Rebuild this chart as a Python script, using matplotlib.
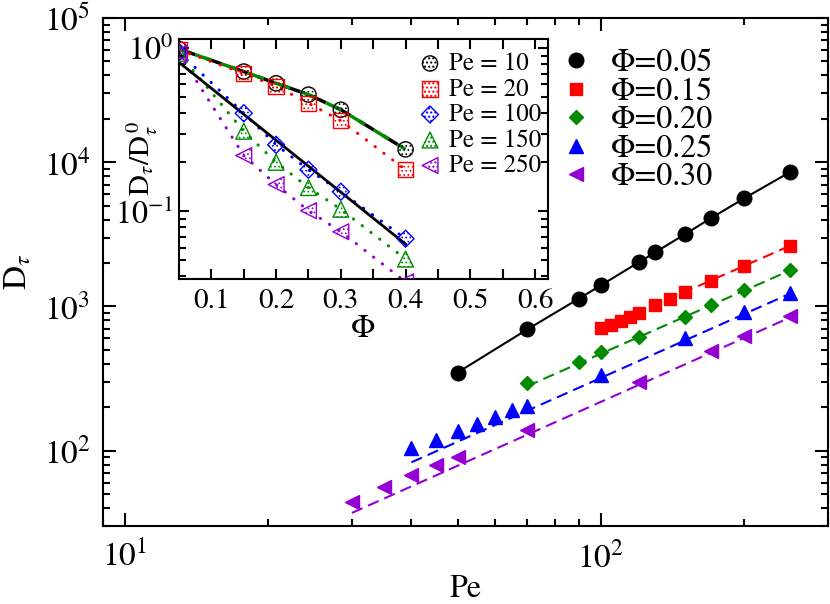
import numpy as np
import matplotlib
matplotlib.use("Agg")
import matplotlib.pyplot as plt
from matplotlib.ticker import MultipleLocator, NullFormatter, LogLocator

plt.rcParams["font.family"] = ["STIXGeneral", "Liberation Serif", "DejaVu Serif"]
plt.rcParams["mathtext.fontset"] = "stix"

# ---- main panel: D_tau against Pe, one set per packing fraction ----
pe_005 = [50, 70, 90, 100, 120, 130, 150, 170, 200, 250]
d_005 = [348, 692, 1135, 1400, 2020, 2370, 3160, 4080, 5620, 8570]

pe_015 = [100, 105, 110, 115, 120, 130, 140, 150, 170, 200, 250]
d_015 = [705, 745, 790, 840, 905, 1020, 1130, 1250, 1490, 1900, 2640]

pe_020 = [70, 90, 100, 120, 150, 170, 200, 250]
d_020 = [296, 415, 480, 615, 845, 1020, 1290, 1785]

pe_025 = [40, 45, 50, 55, 60, 65, 70, 100, 150, 200, 250]
d_025 = [105, 119, 136, 154, 172, 190, 205, 337, 600, 915, 1245]

pe_030 = [30, 35, 40, 45, 50, 70, 120, 170, 200, 250]
d_030 = [44, 56, 68, 80, 91, 140, 297, 487, 619, 860]

# power-law fit lines (end points)
fit_pe_015 = [100, 250]
fit_d_015 = [700, 2640]
fit_pe_020 = [70, 250]
fit_d_020 = [280, 1780]
fit_pe_025 = [40, 250]
fit_d_025 = [83, 1230]
fit_pe_030 = [30, 250]
fit_d_030 = [37, 840]

# ---- inset: D_tau/D_tau^0 against Phi ----
phi = [0.05, 0.15, 0.20, 0.25, 0.30, 0.40]
r_pe10 = [0.99, 0.72, 0.61, 0.52, 0.42, 0.24]
r_pe20 = [0.98, 0.70, 0.585, 0.46, 0.36, 0.18]
r_pe100 = [0.945, 0.40, 0.256, 0.18, 0.132, 0.068]
r_pe150 = [0.93, 0.31, 0.20, 0.14, 0.103, 0.051]
r_pe250 = [0.93, 0.22, 0.146, 0.101, 0.075, 0.037]
fit_phi = [0.05, 0.40]
fit_r = [0.82, 0.063]

green = "#008b00"
purple = "#9400d3"

fig = plt.figure(figsize=(8.3, 6.04), dpi=100)
ax = fig.add_axes([0.1241, 0.1291, 0.8735, 0.841])

dash = (5.5, 3)
ax.plot(pe_005, d_005, color="black", lw=1.5, zorder=2)
ax.plot(fit_pe_015, fit_d_015, color="red", lw=1.5, dashes=dash, zorder=2)
ax.plot(fit_pe_020, fit_d_020, color=green, lw=1.5, dashes=dash, zorder=2)
ax.plot(fit_pe_025, fit_d_025, color="blue", lw=1.5, dashes=dash, zorder=2)
ax.plot(fit_pe_030, fit_d_030, color=purple, lw=1.5, dashes=dash, zorder=2)

ax.plot(pe_005, d_005, ls="none", marker="o", ms=10.5, color="black", label="Φ=0.05")
ax.plot(pe_015, d_015, ls="none", marker="s", ms=9, color="red", label="Φ=0.15")
ax.plot(pe_020, d_020, ls="none", marker="D", ms=7.5, color=green, label="Φ=0.20")
ax.plot(pe_025, d_025, ls="none", marker="^", ms=10.5, color="blue", label="Φ=0.25")
ax.plot(pe_030, d_030, ls="none", marker="<", ms=10.5, color=purple, label="Φ=0.30")

ax.set_xscale("log")
ax.set_yscale("log")
ax.set_xlim(9, 300)
ax.set_ylim(30, 1e5)
ax.xaxis.set_minor_formatter(NullFormatter())
ax.yaxis.set_minor_formatter(NullFormatter())
ax.tick_params(which="both", direction="in", top=True, right=True, width=1.5)
ax.tick_params(which="major", length=9.5, labelsize=24)
ax.tick_params(which="minor", length=5)
ax.tick_params(axis="x", pad=11)
ax.tick_params(axis="y", pad=9)
for s in ax.spines.values():
    s.set_linewidth(1.5)

ax.set_xlabel("Pe", fontsize=23)
ax.xaxis.set_label_coords(0.5, -0.095)
# y label placed by its centre
ax.text(-0.117, 0.5, r"$\mathrm{D}_{\tau}$", fontsize=24, rotation=90,
        ha="center", va="center", transform=ax.transAxes)

ax.legend(loc="upper left", bbox_to_anchor=(560 / 830, 1 - 49 / 604),
          bbox_transform=fig.transFigure, frameon=False, fontsize=23,
          handlelength=1.0, handletextpad=0.6, labelspacing=-0.03,
          borderpad=0, borderaxespad=0)

# ---- inset ----
axi = fig.add_axes([179 / 830, 1 - 279 / 604, 369 / 830, 240 / 604])

dots = (0.1, 3.5)
axi.plot(phi, r_pe10, color="black", lw=2.5, dashes=(5, 3), zorder=2)
axi.plot(phi, r_pe10, color=green, lw=2.5, ls=(3, (5, 3)), zorder=2)
axi.plot(phi, r_pe20, color="red", lw=2.2, dashes=dots, dash_capstyle="round", zorder=2)
axi.plot(phi, r_pe100, color="blue", lw=2.2, dashes=dots, dash_capstyle="round", zorder=2)
axi.plot(phi, r_pe150, color=green, lw=2.2, dashes=dots, dash_capstyle="round", zorder=2)
axi.plot(phi, r_pe250, color=purple, lw=2.2, dashes=dots, dash_capstyle="round", zorder=2)
axi.plot(fit_phi, fit_r, color="black", lw=2, zorder=2)

inset_sets = [
    (r_pe10, "o", "black", "Pe = 10", 120),
    (r_pe20, "s", "red", "Pe = 20", 120),
    (r_pe100, "D", "blue", "Pe = 100", 75),
    (r_pe150, "^", green, "Pe = 150", 130),
    (r_pe250, "<", purple, "Pe = 250", 130),
]
for vals, mk, col, lab, sz in inset_sets:
    with plt.rc_context({"hatch.color": col, "hatch.linewidth": 0.7}):
        axi.scatter(phi, vals, s=sz, marker=mk, facecolors="none",
                    edgecolors=col, linewidths=1.0, hatch="....",
                    label=lab, zorder=3, clip_on=True)

axi.set_yscale("log")
axi.set_xlim(0.05, 0.62)
axi.set_ylim(0.0385, 1.14)
axi.xaxis.set_major_locator(MultipleLocator(0.1))
axi.xaxis.set_minor_locator(MultipleLocator(0.05))
axi.yaxis.set_major_locator(LogLocator(base=10))
axi.yaxis.set_minor_formatter(NullFormatter())
axi.tick_params(which="both", direction="in", top=True, right=True, width=1.5)
axi.tick_params(which="major", length=7, labelsize=21)
axi.tick_params(which="minor", length=5)
axi.tick_params(axis="x", which="minor", length=7)
axi.tick_params(axis="x", pad=7)
axi.tick_params(axis="y", pad=4, labelsize=23)
for s in axi.spines.values():
    s.set_linewidth(1.5)

axi.set_xlabel("Φ", fontsize=23)
axi.xaxis.set_label_coords(0.5, -0.15)
axi.text(-0.10, 0.50, r"$\mathrm{D}_{\tau}/\mathrm{D}_{\tau}^{\,0}$", fontsize=21,
         rotation=90, ha="center", va="center", transform=axi.transAxes)

leg = axi.legend(loc="upper left", bbox_to_anchor=(420 / 830, 1 - 52 / 604),
                 bbox_transform=fig.transFigure, frameon=False, fontsize=18,
                 handlelength=0.8, handletextpad=0.35, labelspacing=0.06,
                 borderpad=0, borderaxespad=0, scatterpoints=1)

fig.savefig("out.png", dpi=100)
